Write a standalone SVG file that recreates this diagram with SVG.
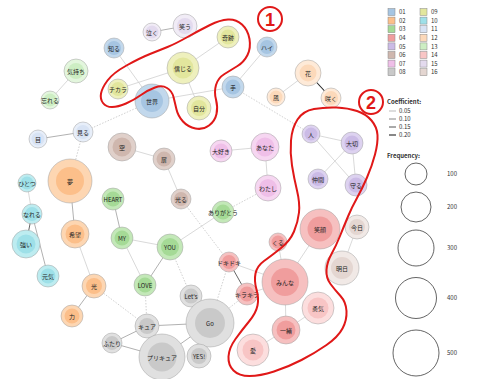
<svg xmlns="http://www.w3.org/2000/svg" width="490" height="379" viewBox="0 0 490 379">
<style>
text{font-family:"Noto Sans CJK JP","Noto Sans",sans-serif;fill:#222}
.n text{font-size:6px;text-anchor:middle;dominant-baseline:central}
.o{stroke:#a0a0a0;stroke-width:0.5}
.c01 .o{fill:#c2d8ec}.c01 .i{fill:#a6c5e2}
.c02 .o{fill:#fdd6b2}.c02 .i{fill:#fcbf8a}
.c03 .o{fill:#c3e8b8}.c03 .i{fill:#a5da96}
.c04 .o{fill:#f6c0c0}.c04 .i{fill:#f09d9d}
.c05 .o{fill:#ddd2f0}.c05 .i{fill:#cbbbe6}
.c06 .o{fill:#e0d0ca}.c06 .i{fill:#cfb7ae}
.c07 .o{fill:#f6d6f1}.c07 .i{fill:#efbfe8}
.c08 .o{fill:#e0e0e0}.c08 .i{fill:#c9c9c9}
.c09 .o{fill:#eef0bd}.c09 .i{fill:#e2e69d}
.c10 .o{fill:#bdecf0}.c10 .i{fill:#9ee0e8}
.c11 .o{fill:#e7eef9}.c11 .i{fill:#d8e3f4}
.c12 .o{fill:#feead8}.c12 .i{fill:#fcd9ba}
.c13 .o{fill:#e3f6dd}.c13 .i{fill:#cdeec3}
.c14 .o{fill:#fcdede}.c14 .i{fill:#f8c5c5}
.c15 .o{fill:#f1ecf6}.c15 .i{fill:#e3daee}
.c16 .o{fill:#f1e9e6}.c16 .i{fill:#e4d6d1}
.e1{stroke:#cfcfcf;stroke-width:0.8;fill:none}
.e2{stroke:#a8a8a8;stroke-width:0.9;fill:none}
.e3{stroke:#666;stroke-width:1;fill:none}
.e4{stroke:#222;stroke-width:1.1;fill:none}
.d{stroke:#c4c4c4;stroke-width:0.8;stroke-dasharray:1.5 1.5;fill:none}
.lg text{font-size:6px;fill:#333}
.red{fill:none;stroke:#e01818;stroke-width:2;stroke-linejoin:round}
</style>
<rect width="490" height="379" fill="#fff"/>

<g id="connectors">
<line class="e1" x1="114" y1="48" x2="152" y2="101"/>
<line class="e1" x1="118" y1="89" x2="183" y2="68"/>
<line class="e1" x1="152" y1="101" x2="233" y2="87"/>
<line class="e1" x1="183" y1="68" x2="228" y2="37"/>
<line class="e1" x1="183" y1="68" x2="199" y2="108"/>
<line class="e1" x1="233" y1="87" x2="267" y2="47"/>
<line class="e2" x1="152" y1="32" x2="185" y2="26"/>
<line class="e1" x1="76" y1="71" x2="50" y2="100"/>
<line class="e1" x1="308" y1="73" x2="276" y2="97"/>
<line class="e4" x1="308" y1="73" x2="331" y2="98"/>
<line class="e2" x1="38" y1="139" x2="83" y2="132"/>
<line class="e1" x1="122" y1="147" x2="164" y2="159"/>
<line class="e1" x1="164" y1="159" x2="181" y2="199"/>
<line class="e1" x1="221" y1="151" x2="265" y2="147"/>
<line class="e1" x1="265" y1="147" x2="268" y2="188"/>
<line class="e1" x1="311" y1="134" x2="352" y2="143"/>
<line class="e1" x1="311" y1="134" x2="356" y2="185"/>
<line class="e1" x1="352" y1="143" x2="318" y2="179"/>
<line class="e1" x1="352" y1="143" x2="356" y2="185"/>
<line class="e1" x1="357" y1="227" x2="342" y2="268"/>
<line class="e1" x1="320" y1="229" x2="285" y2="282"/>
<line class="e1" x1="278" y1="242" x2="285" y2="282"/>
<line class="e3" x1="229" y1="262" x2="247" y2="294"/>
<line class="e1" x1="229" y1="262" x2="285" y2="282"/>
<line class="e1" x1="247" y1="294" x2="285" y2="282"/>
<line class="e1" x1="285" y1="282" x2="286" y2="330"/>
<line class="e1" x1="286" y1="330" x2="253" y2="350"/>
<line class="e1" x1="286" y1="330" x2="318" y2="308"/>
<line class="e2" x1="70" y1="181" x2="75" y2="234"/>
<line class="e1" x1="75" y1="234" x2="94" y2="286"/>
<line class="e2" x1="94" y1="286" x2="72" y2="316"/>
<line class="e1" x1="27" y1="183" x2="32" y2="214"/>
<line class="e3" x1="32" y1="214" x2="26" y2="244"/>
<line class="e2" x1="32" y1="214" x2="48" y2="276"/>
<line class="e2" x1="113" y1="199" x2="122" y2="238"/>
<line class="e1" x1="122" y1="238" x2="170" y2="247"/>
<line class="e1" x1="122" y1="238" x2="145" y2="285"/>
<line class="e2" x1="170" y1="247" x2="145" y2="285"/>
<line class="e1" x1="170" y1="247" x2="223" y2="212"/>
<line class="e2" x1="191" y1="296" x2="210" y2="323"/>
<line class="e2" x1="147" y1="326" x2="210" y2="323"/>
<line class="e2" x1="162" y1="357" x2="210" y2="323"/>
<line class="e2" x1="199" y1="356" x2="210" y2="323"/>
<line class="e2" x1="112" y1="343" x2="147" y2="326"/>
<line class="e2" x1="112" y1="343" x2="162" y2="357"/>
<line class="d" x1="233" y1="87" x2="311" y2="134"/>
<line class="d" x1="83" y1="132" x2="152" y2="101"/>
<line class="d" x1="83" y1="132" x2="70" y2="181"/>
<line class="d" x1="181" y1="199" x2="229" y2="262"/>
<line class="d" x1="223" y1="212" x2="268" y2="188"/>
<line class="d" x1="94" y1="286" x2="147" y2="326"/>
<line class="d" x1="145" y1="285" x2="147" y2="326"/>
<line class="d" x1="229" y1="262" x2="210" y2="323"/>
<line class="d" x1="247" y1="294" x2="210" y2="323"/>
<line class="d" x1="170" y1="247" x2="191" y2="296"/>
</g>

<g id="n-shiru" class="n c01"><circle class="o" cx="114" cy="48" r="10"/><circle class="i" cx="114" cy="48" r="7"/><text x="114" y="48">知る</text></g>
<g id="n-sekai" class="n c01"><circle class="o" cx="152" cy="101" r="17"/><circle class="i" cx="152" cy="101" r="11"/><text x="152" y="101">世界</text></g>
<g id="n-te" class="n c01"><circle class="o" cx="233" cy="87" r="11"/><circle class="i" cx="233" cy="87" r="7.5"/><text x="233" y="87">手</text></g>
<g id="n-hai" class="n c01"><circle class="o" cx="267" cy="47" r="10"/><circle class="i" cx="267" cy="47" r="7"/><text x="267" y="47">ハイ</text></g>
<g id="n-kiseki" class="n c09"><circle class="o" cx="228" cy="37" r="11"/><circle class="i" cx="228" cy="37" r="7.5"/><text x="228" y="37">奇跡</text></g>
<g id="n-shinjiru" class="n c09"><circle class="o" cx="183" cy="68" r="16"/><circle class="i" cx="183" cy="68" r="10.5"/><text x="183" y="68">信じる</text></g>
<g id="n-jibun" class="n c09"><circle class="o" cx="199" cy="108" r="12"/><circle class="i" cx="199" cy="108" r="8"/><text x="199" y="108">自分</text></g>
<g id="n-chikara" class="n c09"><circle class="o" cx="118" cy="89" r="10"/><circle class="i" cx="118" cy="89" r="7"/><text x="118" y="89">チカラ</text></g>
<g id="n-naku" class="n c15"><circle class="o" cx="152" cy="32" r="9"/><circle class="i" cx="152" cy="32" r="6.5"/><text x="152" y="32">泣く</text></g>
<g id="n-warau" class="n c15"><circle class="o" cx="185" cy="26" r="12"/><circle class="i" cx="185" cy="26" r="8"/><text x="185" y="26">笑う</text></g>
<g id="n-kimochi" class="n c13"><circle class="o" cx="76" cy="71" r="12"/><circle class="i" cx="76" cy="71" r="8"/><text x="76" y="71">気持ち</text></g>
<g id="n-wasureru" class="n c13"><circle class="o" cx="50" cy="100" r="9"/><circle class="i" cx="50" cy="100" r="6.5"/><text x="50" y="100">忘れる</text></g>
<g id="n-hana" class="n c12"><circle class="o" cx="308" cy="73" r="13"/><circle class="i" cx="308" cy="73" r="8.5"/><text x="308" y="73">花</text></g>
<g id="n-kaze" class="n c12"><circle class="o" cx="276" cy="97" r="9"/><circle class="i" cx="276" cy="97" r="6.5"/><text x="276" y="97">風</text></g>
<g id="n-saku" class="n c12"><circle class="o" cx="331" cy="98" r="10"/><circle class="i" cx="331" cy="98" r="7"/><text x="331" y="98">咲く</text></g>
<g id="n-me" class="n c11"><circle class="o" cx="38" cy="139" r="9"/><circle class="i" cx="38" cy="139" r="6.5"/><text x="38" y="139">目</text></g>
<g id="n-miru" class="n c11"><circle class="o" cx="83" cy="132" r="10"/><circle class="i" cx="83" cy="132" r="7"/><text x="83" y="132">見る</text></g>
<g id="n-sora" class="n c06"><circle class="o" cx="122" cy="147" r="14"/><circle class="i" cx="122" cy="147" r="9.5"/><text x="122" y="147">空</text></g>
<g id="n-tobira" class="n c06"><circle class="o" cx="164" cy="159" r="11"/><circle class="i" cx="164" cy="159" r="7.5"/><text x="164" y="159">扉</text></g>
<g id="n-hikaru" class="n c06"><circle class="o" cx="181" cy="199" r="10"/><circle class="i" cx="181" cy="199" r="7"/><text x="181" y="199">光る</text></g>
<g id="n-daisuki" class="n c07"><circle class="o" cx="221" cy="151" r="11"/><circle class="i" cx="221" cy="151" r="7.5"/><text x="221" y="151">大好き</text></g>
<g id="n-anata" class="n c07"><circle class="o" cx="265" cy="147" r="14"/><circle class="i" cx="265" cy="147" r="9.5"/><text x="265" y="147">あなた</text></g>
<g id="n-watashi" class="n c07"><circle class="o" cx="268" cy="188" r="13"/><circle class="i" cx="268" cy="188" r="9"/><text x="268" y="188">わたし</text></g>
<g id="n-hito" class="n c05"><circle class="o" cx="311" cy="134" r="9"/><circle class="i" cx="311" cy="134" r="6.5"/><text x="311" y="134">人</text></g>
<g id="n-taisetsu" class="n c05"><circle class="o" cx="352" cy="143" r="11"/><circle class="i" cx="352" cy="143" r="7.5"/><text x="352" y="143">大切</text></g>
<g id="n-nakama" class="n c05"><circle class="o" cx="318" cy="179" r="10"/><circle class="i" cx="318" cy="179" r="7"/><text x="318" y="179">仲間</text></g>
<g id="n-mamoru" class="n c05"><circle class="o" cx="356" cy="185" r="11"/><circle class="i" cx="356" cy="185" r="7.5"/><text x="356" y="185">守る</text></g>
<g id="n-kyou" class="n c16"><circle class="o" cx="357" cy="227" r="12"/><circle class="i" cx="357" cy="227" r="8"/><text x="357" y="227">今日</text></g>
<g id="n-ashita" class="n c16"><circle class="o" cx="342" cy="268" r="17"/><circle class="i" cx="342" cy="268" r="11"/><text x="342" y="268">明日</text></g>
<g id="n-egao" class="n c04"><circle class="o" cx="320" cy="229" r="20"/><circle class="i" cx="320" cy="229" r="12.5"/><text x="320" y="229">笑顔</text></g>
<g id="n-kuru" class="n c04"><circle class="o" cx="278" cy="242" r="9"/><circle class="i" cx="278" cy="242" r="6.5"/><text x="278" y="242">くる</text></g>
<g id="n-dokidoki" class="n c04"><circle class="o" cx="229" cy="262" r="10"/><circle class="i" cx="229" cy="262" r="7"/><text x="229" y="262">ドキドキ</text></g>
<g id="n-kirakira" class="n c04"><circle class="o" cx="247" cy="294" r="11"/><circle class="i" cx="247" cy="294" r="7.5"/><text x="247" y="294">キラキラ</text></g>
<g id="n-minna" class="n c04"><circle class="o" cx="285" cy="282" r="23"/><circle class="i" cx="285" cy="282" r="14"/><text x="285" y="282">みんな</text></g>
<g id="n-issho" class="n c04"><circle class="o" cx="286" cy="330" r="14"/><circle class="i" cx="286" cy="330" r="9.5"/><text x="286" y="330">一緒</text></g>
<g id="n-yuuki" class="n c14"><circle class="o" cx="318" cy="308" r="16"/><circle class="i" cx="318" cy="308" r="10.5"/><text x="318" y="308">勇気</text></g>
<g id="n-ai" class="n c14"><circle class="o" cx="253" cy="350" r="16"/><circle class="i" cx="253" cy="350" r="10.5"/><text x="253" y="350">愛</text></g>
<g id="n-yume" class="n c02"><circle class="o" cx="70" cy="181" r="22"/><circle class="i" cx="70" cy="181" r="14"/><text x="70" y="181">夢</text></g>
<g id="n-kibou" class="n c02"><circle class="o" cx="75" cy="234" r="14"/><circle class="i" cx="75" cy="234" r="9.5"/><text x="75" y="234">希望</text></g>
<g id="n-hikari" class="n c02"><circle class="o" cx="94" cy="286" r="12"/><circle class="i" cx="94" cy="286" r="8"/><text x="94" y="286">光</text></g>
<g id="n-chikara2" class="n c02"><circle class="o" cx="72" cy="316" r="11"/><circle class="i" cx="72" cy="316" r="7.5"/><text x="72" y="316">力</text></g>
<g id="n-hitotsu" class="n c10"><circle class="o" cx="27" cy="183" r="9"/><circle class="i" cx="27" cy="183" r="6.5"/><text x="27" y="183">ひとつ</text></g>
<g id="n-nareru" class="n c10"><circle class="o" cx="32" cy="214" r="10"/><circle class="i" cx="32" cy="214" r="7"/><text x="32" y="214">なれる</text></g>
<g id="n-tsuyoi" class="n c10"><circle class="o" cx="26" cy="244" r="14"/><circle class="i" cx="26" cy="244" r="9.5"/><text x="26" y="244">強い</text></g>
<g id="n-genki" class="n c10"><circle class="o" cx="48" cy="276" r="11"/><circle class="i" cx="48" cy="276" r="7.5"/><text x="48" y="276">元気</text></g>
<g id="n-heart" class="n c03"><circle class="o" cx="113" cy="199" r="11"/><circle class="i" cx="113" cy="199" r="7.5"/><text x="113" y="199">HEART</text></g>
<g id="n-my" class="n c03"><circle class="o" cx="122" cy="238" r="11"/><circle class="i" cx="122" cy="238" r="7.5"/><text x="122" y="238">MY</text></g>
<g id="n-you" class="n c03"><circle class="o" cx="170" cy="247" r="13"/><circle class="i" cx="170" cy="247" r="9"/><text x="170" y="247">YOU</text></g>
<g id="n-love" class="n c03"><circle class="o" cx="145" cy="285" r="11"/><circle class="i" cx="145" cy="285" r="7.5"/><text x="145" y="285">LOVE</text></g>
<g id="n-arigatou" class="n c03"><circle class="o" cx="223" cy="212" r="11"/><circle class="i" cx="223" cy="212" r="7.5"/><text x="223" y="212">ありがとう</text></g>
<g id="n-lets" class="n c08"><circle class="o" cx="191" cy="296" r="11"/><circle class="i" cx="191" cy="296" r="7.5"/><text x="191" y="296">Let's</text></g>
<g id="n-go" class="n c08"><circle class="o" cx="210" cy="323" r="24"/><circle class="i" cx="210" cy="323" r="15"/><text x="210" y="323">Go</text></g>
<g id="n-cure" class="n c08"><circle class="o" cx="147" cy="326" r="12"/><circle class="i" cx="147" cy="326" r="8"/><text x="147" y="326">キュア</text></g>
<g id="n-futari" class="n c08"><circle class="o" cx="112" cy="343" r="10"/><circle class="i" cx="112" cy="343" r="7"/><text x="112" y="343">ふたり</text></g>
<g id="n-precure" class="n c08"><circle class="o" cx="162" cy="357" r="23"/><circle class="i" cx="162" cy="357" r="14.5"/><text x="162" y="357">プリキュア</text></g>
<g id="n-yes" class="n c08"><circle class="o" cx="199" cy="356" r="12"/><circle class="i" cx="199" cy="356" r="8"/><text x="199" y="356">YES!</text></g>

<g id="annotations">
<path class="red" d="M 150,54 Q 140,58 126.5,65.5 Q 113,73 107.5,80.5 Q 102,88 101,93.5 Q 100,99 103,103 Q 106,107 112,107 Q 118,107 126,103.5 Q 134,100 141,95 Q 148,90 155,87.5 Q 162,85 167,88 Q 172,91 173.5,97 Q 175,103 176.5,109.5 Q 178,116 183,121.5 Q 188,127 195.5,128.5 Q 203,130 209,125.5 Q 215,121 216.5,114 Q 218,107 216,99.5 Q 214,92 216,85 Q 218,78 224.5,74 Q 231,70 237.5,66 Q 244,62 247.5,55 Q 251,48 249.5,39 Q 248,30 242,24.5 Q 236,19 228,19.5 Q 220,20 210,25 Q 200,30 187.5,37 Q 175,44 167.5,47 Q 160,50 150,54 Z"/>
<path class="red" d="M 314,109 Q 325,107 336.5,107.5 Q 348,108 357,111 Q 366,114 371.5,120.5 Q 377,127 377.5,135 Q 378,143 375,154.5 Q 372,166 367,177.5 Q 362,189 357,198 Q 352,207 348,216.5 Q 344,226 340,236 Q 336,246 331.5,254 Q 327,262 326.5,270 Q 326,278 330.5,284 Q 335,290 340.5,296 Q 346,302 346.5,311 Q 347,320 342.5,328.5 Q 338,337 326.5,345 Q 315,353 301.5,360 Q 288,367 274,371.5 Q 260,376 249.5,376 Q 239,376 233.5,370.5 Q 228,365 228.5,356.5 Q 229,348 235.5,339 Q 242,330 249,321.5 Q 256,313 257.5,305.5 Q 259,298 256.5,289.5 Q 254,281 255.5,273.5 Q 257,266 264,261 Q 271,256 280.5,248.5 Q 290,241 294,231.5 Q 298,222 299,212.5 Q 300,203 297,190.5 Q 294,178 292,165.5 Q 290,153 291,140.5 Q 292,128 297.5,119.5 Q 303,111 314,109 Z"/>
<circle cx="270" cy="19" r="12" fill="#fff" stroke="#e01818" stroke-width="2"/>
<text x="270" y="25.5" text-anchor="middle" style="font-family:'Liberation Sans',sans-serif;font-size:18px;font-weight:bold;fill:#e01818">1</text>
<circle cx="371" cy="102" r="12" fill="#fff" stroke="#e01818" stroke-width="2"/>
<text x="371" y="108.5" text-anchor="middle" style="font-family:'Liberation Sans',sans-serif;font-size:18px;font-weight:bold;fill:#e01818">2</text>
</g>

<g id="legend" class="lg">
<g stroke="#888" stroke-width="0.5">
<rect x="388" y="8.5" width="7" height="7" fill="#a6c5e2"/>
<rect x="388" y="17.1" width="7" height="7" fill="#fcbf8a"/>
<rect x="388" y="25.7" width="7" height="7" fill="#a5da96"/>
<rect x="388" y="34.3" width="7" height="7" fill="#f09d9d"/>
<rect x="388" y="42.9" width="7" height="7" fill="#cbbbe6"/>
<rect x="388" y="51.5" width="7" height="7" fill="#cfb7ae"/>
<rect x="388" y="60.1" width="7" height="7" fill="#efbfe8"/>
<rect x="388" y="68.7" width="7" height="7" fill="#c9c9c9"/>
<rect x="420" y="8.5" width="7" height="7" fill="#e2e69d"/>
<rect x="420" y="17.1" width="7" height="7" fill="#9ee0e8"/>
<rect x="420" y="25.7" width="7" height="7" fill="#d8e3f4"/>
<rect x="420" y="34.3" width="7" height="7" fill="#fcd9ba"/>
<rect x="420" y="42.9" width="7" height="7" fill="#cdeec3"/>
<rect x="420" y="51.5" width="7" height="7" fill="#f8c5c5"/>
<rect x="420" y="60.1" width="7" height="7" fill="#e3daee"/>
<rect x="420" y="68.7" width="7" height="7" fill="#e4d6d1"/>
</g>
<text x="399" y="14.2">01</text><text x="399" y="22.8">02</text><text x="399" y="31.4">03</text><text x="399" y="40">04</text>
<text x="399" y="48.6">05</text><text x="399" y="57.2">06</text><text x="399" y="65.8">07</text><text x="399" y="74.4">08</text>
<text x="431" y="14.2">09</text><text x="431" y="22.8">10</text><text x="431" y="31.4">11</text><text x="431" y="40">12</text>
<text x="431" y="48.6">13</text><text x="431" y="57.2">14</text><text x="431" y="65.8">15</text><text x="431" y="74.4">16</text>
<text x="387" y="104" style="font-weight:bold">Coefficient:</text>
<line x1="389" y1="111" x2="396" y2="111" stroke="#bbb" stroke-width="1"/>
<line x1="389" y1="119" x2="396" y2="119" stroke="#888" stroke-width="1"/>
<line x1="389" y1="127" x2="396" y2="127" stroke="#555" stroke-width="1"/>
<line x1="389" y1="135" x2="396" y2="135" stroke="#111" stroke-width="1"/>
<text x="399" y="113">0.05</text><text x="399" y="121">0.10</text><text x="399" y="129">0.15</text><text x="399" y="137">0.20</text>
<text x="387" y="158" style="font-weight:bold">Frequency:</text>
<g fill="none" stroke="#222" stroke-width="0.7">
<circle cx="416" cy="174" r="11"/>
<circle cx="416" cy="207" r="15"/>
<circle cx="416" cy="248" r="18"/>
<circle cx="416" cy="298" r="20.5"/>
<circle cx="416" cy="353" r="23"/>
</g>
<text x="447" y="176">100</text><text x="447" y="209">200</text><text x="447" y="250">300</text><text x="447" y="300">400</text><text x="447" y="355">500</text>
</g>
</svg>
